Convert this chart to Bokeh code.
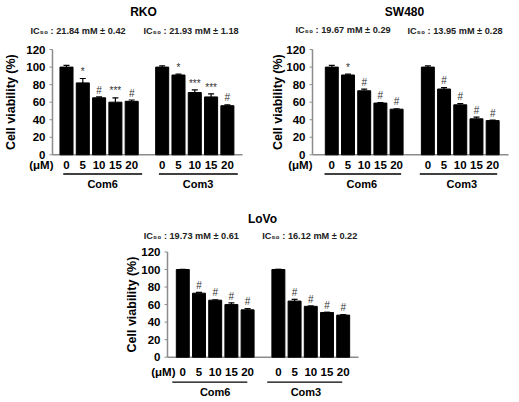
import math
from bokeh.plotting import figure
from bokeh.layouts import column, row, Spacer
from bokeh.models import ColumnDataSource, Whisker, TeeHead, Range1d
from bokeh.core.properties import value
from bokeh.embed import file_html
from bokeh.resources import INLINE

# ---------------- data ----------------
doses = ["0", "5", "10", "15", "20"]
groups = ["Com6", "Com3"]
yticks = [0, 20, 40, 60, 80, 100, 120]
ylabel = "Cell viability (%)"
unit_label = "(\u03bcM)"

rko_com6 = [100, 82, 65, 60, 61]
rko_com6_err = [2, 5, 1, 5, 1.5]
rko_com6_sig = ["", "*", "#", "***", "#"]
rko_com3 = [100, 91, 71, 66, 56]
rko_com3_err = [1.5, 1, 3, 3.5, 1]
rko_com3_sig = ["", "*", "***", "***", "#"]
rko_ic50 = ["IC\u2085\u2080 : 21.84 mM \u00b1 0.42", "IC\u2085\u2080 : 21.93 mM \u00b1 1.18"]

sw_com6 = [100, 91, 73, 59, 52]
sw_com6_err = [2, 1, 2, 0.5, 0.5]
sw_com6_sig = ["", "*", "#", "#", "#"]
sw_com3 = [100, 75, 57, 41, 39]
sw_com3_err = [1.5, 1.5, 1.5, 2, 0.5]
sw_com3_sig = ["", "#", "#", "#", "#"]
sw_ic50 = ["IC\u2085\u2080 : 19.67 mM \u00b1 0.29", "IC\u2085\u2080 : 13.95 mM \u00b1 0.28"]

lovo_com6 = [100, 73, 65, 60, 54]
lovo_com6_err = [0.3, 1, 0.5, 2, 1.5]
lovo_com6_sig = ["", "#", "#", "#", "#"]
lovo_com3 = [100, 64, 58, 51, 48]
lovo_com3_err = [0.3, 2, 0.5, 0.3, 0.5]
lovo_com3_sig = ["", "#", "#", "#", "#"]
lovo_ic50 = ["IC\u2085\u2080 : 19.73 mM \u00b1 0.61", "IC\u2085\u2080 : 16.12 mM \u00b1 0.22"]

FONT = value("Liberation Sans")
PPU = 0.877  # px per % unit
AXC = "#8c8c8c"


def make_panel(name, ic50, c6, c6e, c6s, c3, c3e, c3s, g):
    W, H = g["W"], g["H"]
    x0, sp, y0 = g["x0"], g["sp"], g["y0"]

    def px2x(px):
        return (px - x0) / sp

    def py2y(py):
        return (y0 - py) / PPU

    p = figure(width=W, height=H, output_backend="svg", toolbar_location=None,
               x_axis_type=None, y_axis_type=None, title=None,
               x_range=Range1d(px2x(0), px2x(W)), y_range=Range1d(py2y(H), py2y(0)),
               min_border=0)
    p.outline_line_color = None
    p.grid.visible = False
    p.background_fill_color = "white"
    p.border_fill_color = "white"

    ax_x = px2x(g["fl"])
    ax_end = px2x(g["fr"])

    # axes lines
    p.segment(x0=[ax_x], y0=[0], x1=[ax_x], y1=[yticks[-1]], line_color=AXC, line_width=1.5)
    p.segment(x0=[ax_x], y0=[0], x1=[ax_end], y1=[0], line_color=AXC, line_width=1.5)
    # y ticks and labels
    n = len(yticks)
    p.segment(x0=[px2x(g["fl"] - 3)] * n, y0=yticks, x1=[ax_x] * n, y1=yticks,
              line_color=AXC, line_width=1)
    p.text(x=[px2x(g["fl"] - 7)] * n, y=yticks, text=[str(t) for t in yticks],
           text_align="right", text_baseline="middle", text_font=FONT,
           text_font_style="bold", text_font_size="11.5px", text_color="black")
    p.text(x=[px2x(g["ylab_x"])], y=[(yticks[0] + yticks[-1]) / 2], text=[ylabel],
           angle=math.pi / 2, text_align="center", text_baseline="middle",
           text_font=FONT, text_font_style="bold", text_font_size="12.5px",
           text_color="black")

    pos6 = [i for i in range(len(doses))]
    pos3 = [g["g2"] + i for i in range(len(doses))]
    for pos, vals, errs, sig in ((pos6, c6, c6e, c6s), (pos3, c3, c3e, c3s)):
        up = [v + e for v, e in zip(vals, errs)]
        src = ColumnDataSource(dict(x=pos, top=vals, up=up, sig=sig,
                                    sy=[u + 1.5 for u in up]))
        p.vbar(x="x", top="top", bottom=0, width=0.8, source=src,
               fill_color="black", line_color="black")
        p.add_layout(Whisker(base="x", lower="top", upper="up", source=src,
                             line_color="black", line_width=1.2, lower_head=None,
                             upper_head=TeeHead(size=6, line_color="black", line_width=1.2)))
        p.text(x="x", y="sy", text="sig", source=src, text_align="center",
               text_baseline="bottom", text_font=FONT,
               text_font_size="10px", text_color="#333333")
        # dose labels under the axis
        p.text(x=pos, y=[py2y(g["tick_y"])] * len(pos), text=doses,
               text_align="center", text_baseline="middle", text_font=FONT,
               text_font_style="bold", text_font_size="11.5px", text_color="black")

    # (uM)
    p.text(x=[px2x(g["um_r"])], y=[py2y(g["tick_y"])], text=[unit_label],
           text_align="right", text_baseline="middle", text_font=FONT,
           text_font_style="bold", text_font_size="11.5px", text_color="black")

    # group underlines and labels
    for k, base in enumerate((0, g["g2"])):
        a, b = g["ul"][k]
        p.segment(x0=[base + a], y0=[py2y(g["ul_y"])], x1=[base + b], y1=[py2y(g["ul_y"])],
                  line_color="black", line_width=1.3)
        p.text(x=[base + g["com_x"][k]], y=[py2y(g["com_y"])], text=[groups[k]],
               text_align="center", text_baseline="middle", text_font=FONT,
               text_font_style="bold", text_font_size="11px", text_color="black")

    # title and IC50
    p.text(x=[px2x(g["title"][0])], y=[py2y(g["title"][1])], text=[name],
           text_align="center", text_baseline="middle", text_font=FONT,
           text_font_style="bold", text_font_size="12px", text_color="black")
    p.text(x=[px2x(g["ic"][0][0]), px2x(g["ic"][1][0])],
           y=[py2y(g["ic"][0][1]), py2y(g["ic"][1][1])], text=ic50,
           text_align="left", text_baseline="middle", text_font=FONT,
           text_font_style="bold", text_font_size="9.2px", text_color="#222222")
    return p


g_rko = dict(W=259, H=200, fl=52, fr=242, y0=154.3, x0=66, sp=16.3, g2=5.87, ylab_x=10,
             title=(143, 11), ic=((30, 30), (143, 30)), tick_y=164.5, ul_y=173.5,
             ul=((-0.2, 4.64), (-0.2, 4.64)), com_x=(2.22, 2.2), com_y=183, um_r=53)
g_sw = dict(W=260, H=200, fl=53, fr=249, y0=154.3, x0=72.3, sp=16.2, g2=5.93, ylab_x=18,
            title=(145, 11), ic=((36, 29.5), (148, 30.5)), tick_y=164.5, ul_y=173.5,
            ul=((-0.45, 4.28), (-0.5, 4.28)), com_x=(1.85, 2.1), com_y=183, um_r=53)
g_lovo = dict(W=330, H=202, fl=67, fr=258, y0=156.7, x0=82.3, sp=16.2, g2=5.9, ylab_x=31.5,
              title=(162, 18.3), ic=((43.3, 35), (161.7, 35)), tick_y=171.7, ul_y=181.7,
              ul=((-0.65, 3.98), (-0.69, 3.94)), com_x=(2.0, 1.7), com_y=191.7, um_r=75)

p1 = make_panel("RKO", rko_ic50, rko_com6, rko_com6_err, rko_com6_sig,
                rko_com3, rko_com3_err, rko_com3_sig, g_rko)
p2 = make_panel("SW480", sw_ic50, sw_com6, sw_com6_err, sw_com6_sig,
                sw_com3, sw_com3_err, sw_com3_sig, g_sw)
p3 = make_panel("LoVo", lovo_ic50, lovo_com6, lovo_com6_err, lovo_com6_sig,
                lovo_com3, lovo_com3_err, lovo_com3_sig, g_lovo)

layout = column(row(p1, p2), row(Spacer(width=100, height=202), p3))

open("out.html", "w").write(file_html(layout, INLINE))
